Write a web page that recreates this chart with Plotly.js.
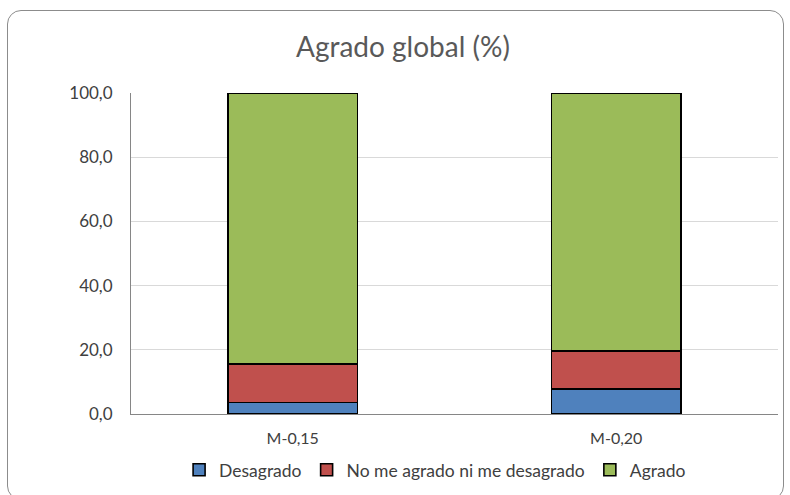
<!DOCTYPE html>
<html><head><meta charset="utf-8">
<script src="https://cdn.plot.ly/plotly-3.0.1.min.js"></script>
<style>
html,body{margin:0;padding:0;background:#fff;}
#wrap{position:relative;width:790px;height:495px;}
#chart{position:absolute;left:0;top:0;width:790px;height:495px;}
#frame{position:absolute;left:7px;top:10px;width:777px;height:490px;border:1px solid #8c8c8c;border-radius:14px;pointer-events:none;box-sizing:border-box;}
</style></head>
<body><div id="wrap"><div id="chart"></div><div id="frame"></div></div>
<script>
const categories = ["M-0,15", "M-0,20"];
const desagrado = [3.6, 7.7];
const neutro = [12.0, 12.0];
const agrado = [84.4, 80.3];
const seriesNames = ["Desagrado", "No me agrado ni me desagrado", "Agrado"];
const tickVals = [0, 20, 40, 60, 80, 100];
const tickText = ["0,0", "20,0", "40,0", "60,0", "80,0", "100,0"];

const colors = ["#4f81bd", "#c0504d", "#9bbb59"];
const values = [desagrado, neutro, agrado];
const traces = values.map((v, i) => ({
  type: "bar", x: categories, y: v, name: seriesNames[i],
  marker: {color: colors[i], line: {color: "#000", width: 1.6}},
  hoverinfo: "none"
}));

const layout = {
  width: 790, height: 495,
  margin: {l: 131, r: 12, t: 93, b: 81, autoexpand: false},
  paper_bgcolor: "rgba(0,0,0,0)", plot_bgcolor: "#fff",
  barmode: "stack", bargap: 0.6,
  title: {text: "Agrado global (%)", x: 0.51, xref: "container", xanchor: "center", y: 0.905, yanchor: "middle",
          font: {family: "Lato, 'Open Sans', sans-serif", size: 28, color: "#595959"}},
  font: {family: "Lato, 'Open Sans', sans-serif", size: 16, color: "#404040"},
  xaxis: {showgrid: false, showline: true, linecolor: "#868686", linewidth: 1, automargin: false,
          ticks: "", ticklabelstandoff: 10, tickfont: {size: 16, color: "#404040"}, fixedrange: true},
  yaxis: {range: [0, 100], tickvals: tickVals, ticktext: tickText, automargin: false,
          showgrid: true, gridcolor: "#d9d9d9", gridwidth: 1,
          showline: true, linecolor: "#868686", linewidth: 1, zeroline: false,
          ticks: "", ticklabelstandoff: 14, tickfont: {size: 17, color: "#404040"}, fixedrange: true},
  showlegend: true,
  legend: {orientation: "h", x: 0.47, xanchor: "center", y: -0.174, yanchor: "middle",
           font: {size: 17.5, color: "#404040"}, traceorder: "normal", tracegroupgap: 0}
};
Plotly.newPlot("chart", traces, layout, {displayModeBar: false, staticPlot: true});
</script></body></html>
